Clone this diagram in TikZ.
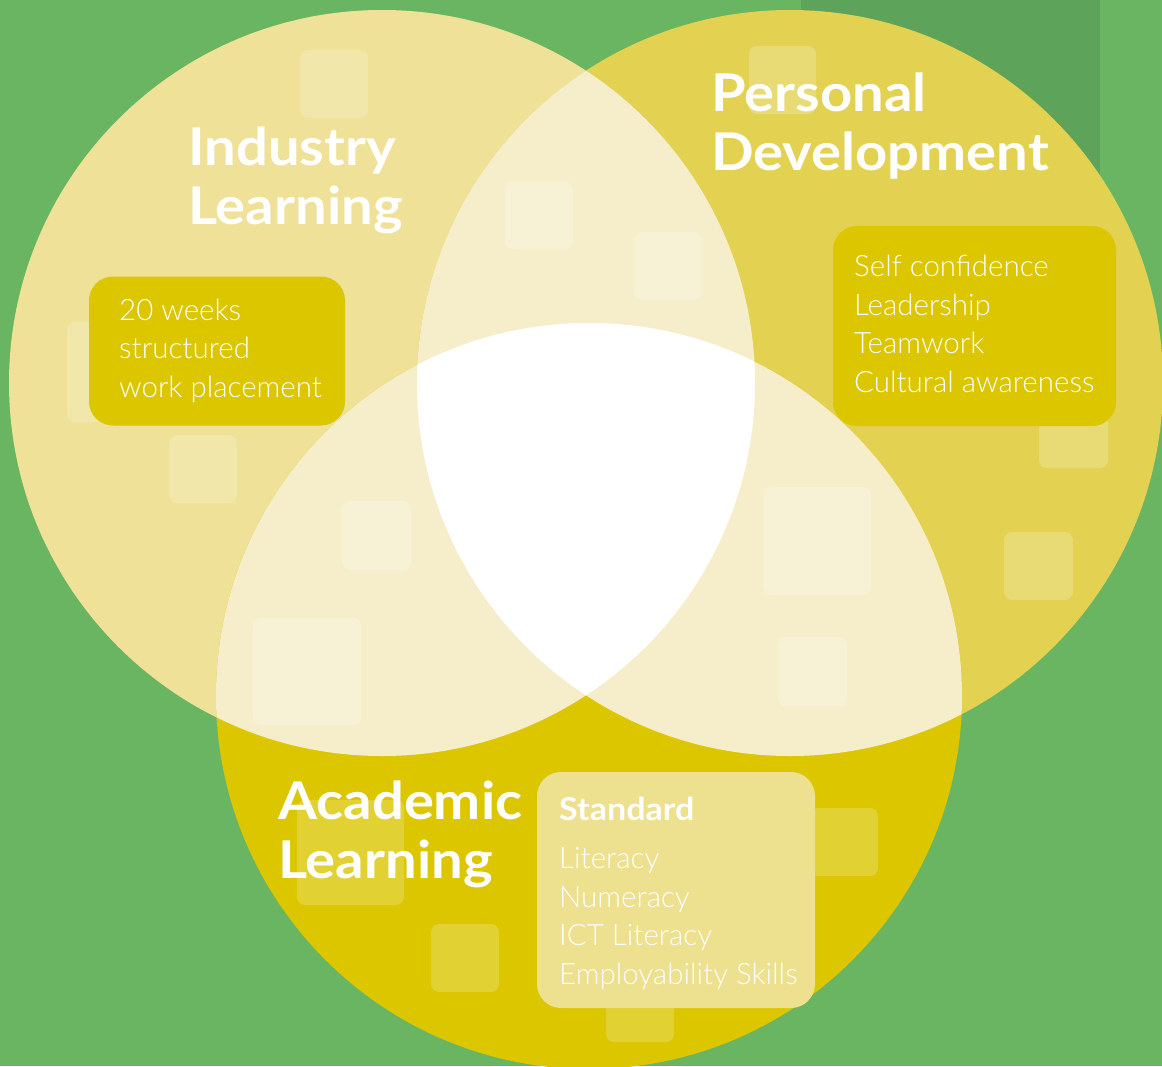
\documentclass[tikz,border=0pt]{standalone}
\usepackage{fontspec}
\setmainfont{Lato}
\newfontfamily\lightf{Lato Light}
\newfontfamily\titlef{Lato Bold}[FakeStretch=1.08]
\definecolor{bg}{HTML}{69B562}
\definecolor{bgdark}{HTML}{5EA35A}
\definecolor{cA}{HTML}{EFE197}
\definecolor{cB}{HTML}{E3D152}
\definecolor{cC}{HTML}{DBC600}
\definecolor{ov}{HTML}{F6EECB}
\definecolor{stdbox}{HTML}{EDE08E}
\tikzset{
  sq/.style={fill=white, fill opacity=0.2, rounded corners=8pt},
  tbox/.style={rounded corners=24pt, inner sep=0pt},
  title/.style={text=white, anchor=base west, align=left, inner sep=0pt, font=\titlef\fontsize{52}{58.5}\selectfont},
  body/.style={text=white, anchor=base west, align=left, inner sep=0pt, font=\lightf\fontsize{29.5}{38.5}\selectfont},
}
\begin{document}
\begin{tikzpicture}[x=1pt,y=-1pt]
\fill[bg] (0,0) rectangle (1162,1066);
\fill[bgdark] (801,0) rectangle (1100,300);
\useasboundingbox (0,0) rectangle (1162,1066);
\coordinate (cI) at (382,383);
\coordinate (cP) at (790,383);
\coordinate (cL) at (589,696);
\fill[cA] (cI) circle[radius=373];
\fill[cB] (cP) circle[radius=373];
\fill[cC] (cL) circle[radius=373];
\begin{scope}
  \clip (cI) circle[radius=373];
  \fill[ov] (cP) circle[radius=373];
  \fill[ov] (cL) circle[radius=373];
\end{scope}
\begin{scope}
  \clip (cP) circle[radius=373];
  \fill[ov] (cL) circle[radius=373];
\end{scope}
\begin{scope}
  \clip (cI) circle[radius=373];
  \clip (cP) circle[radius=373];
  \fill[white] (cL) circle[radius=373];
\end{scope}
% decorative squares
\fill[sq] (300,50) rectangle (368,118);
\fill[sq] (749,46) rectangle (816,114);
\fill[sq] (505,182) rectangle (573,249);
\fill[sq] (634,232) rectangle (702,300);
\fill[sq] (67,322) rectangle (167,422);
\fill[sq] (169,435) rectangle (237,503);
\fill[sq] (342,501) rectangle (411,570);
\fill[sq] (253,618) rectangle (361,725);
\fill[sq] (763,487) rectangle (871,595);
\fill[sq] (778,637) rectangle (847,706);
\fill[sq] (1039,400) rectangle (1108,468);
\fill[sq] (1004,532) rectangle (1073,600);
\fill[sq] (297,800) rectangle (404,905);
\fill[sq] (431,924) rectangle (499,992);
\fill[sq] (810,808) rectangle (878,876);
\fill[sq] (606,990) rectangle (674,1042);
% text boxes
\node[tbox, fill=cC, minimum width=256pt, minimum height=149pt] (boxI) at (217,351) {};
\node[tbox, fill=cC, minimum width=283pt, minimum height=200pt] (boxP) at (974.5,326) {};
\node[tbox, fill=stdbox, minimum width=278pt, minimum height=236pt] (boxL) at (676,890) {};
% titles (anchored at the baseline of the last line)
\node[title] (tI) at (188,224) {Industry\\Learning};
\node[title] (tP) at (711,170) {Personal\\Development};
\node[title] (tL) at (278,878) {Academic\\Learning};
% body text
\node[body] (xI) at (119,397) {20 weeks\\structured\\work placement};
\node[body] (xP) at (854,392) {Self confidence\\Leadership\\Teamwork\\Cultural awareness};
\node[text=white, anchor=base west, inner sep=0pt, font=\titlef\fontsize{31.5}{36}\selectfont] (sL) at (559,820) {Standard};
\node[body] (xL) at (559,984) {Literacy\\Numeracy\\ICT Literacy\\Employability Skills};
\end{tikzpicture}
\end{document}
